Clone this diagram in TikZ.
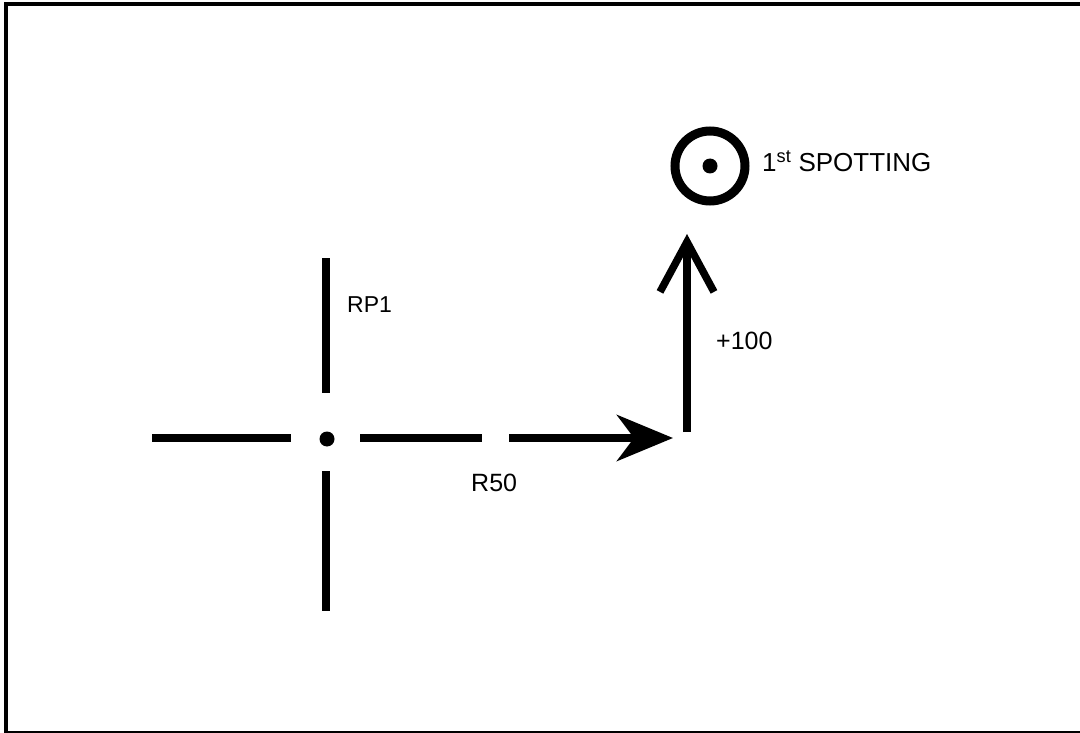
\documentclass[tikz,border=0pt]{standalone}
\usepackage{fontspec}
\setmainfont{Liberation Sans}
\usetikzlibrary{arrows.meta}

\tikzset{
  frameline/.style={line width=4pt, line cap=butt},
  hairline/.style={line width=7.5pt, line cap=butt},
  shaftR/.style={line width=8pt, -{Stealth[length=56pt, width=46pt, inset=17pt]}},
  shaftU/.style={line width=7.5pt, -{Straight Barb[length=50pt, width=54pt]}},
  label/.style={inner sep=0pt, font=\fontsize{25}{29}\selectfont},
  dotmark/.style={circle, fill=black, inner sep=0pt, minimum size=15pt},
  ring/.style={circle, draw=black, line width=9pt, inner sep=0pt, minimum size=70pt}
}

\begin{document}
\begin{tikzpicture}[x=1pt, y=-1pt]
  \useasboundingbox (0,0) rectangle (1080,733);
  \fill[white] (0,0) rectangle (1080,733);

  % frame on the top, left and bottom edges
  \coordinate (fTL) at (6,4);
  \coordinate (fTR) at (1080,4);
  \coordinate (fBL) at (6,733);
  \coordinate (bL) at (6,732);
  \coordinate (bR) at (1080,732);
  \draw[frameline, line join=miter] (fTR) -- (fTL) -- (fBL);
  \draw[line width=2pt] (bL) -- (bR);

  % reference point RP1: a dot with broken cross hairs
  \node[dotmark] (rp) at (327,439) {};
  \coordinate (vA) at (326,258);
  \coordinate (vB) at (326,393);
  \coordinate (vC) at (326,471);
  \coordinate (vD) at (326,611);
  \coordinate (hA) at (152,438);
  \coordinate (hB) at (291,438);
  \coordinate (hC) at (360,438);
  \coordinate (hD) at (482,438);
  \coordinate (hE) at (509,438);
  \coordinate (turn) at (673,438);
  \draw[hairline] (vA) -- (vB);
  \draw[hairline] (vC) -- (vD);
  \draw[hairline] (hA) -- (hB);
  \draw[hairline] (hC) -- (hD);

  % shift right, then add
  \draw[shaftR] (hE) -- (turn);
  \coordinate (upBase) at (687,432);
  \coordinate (upTip) at (687,234);
  \draw[shaftU] (upBase) -- (upTip);

  % first spotting
  \node[ring] (spot) at (710,166) {};
  \node[dotmark] (spotdot) at (710,166) {};

  % labels
  \node[label, anchor=west, font=\fontsize{23}{27}\selectfont] (lrp) at (347,305) {RP1};
  \node[label, anchor=west] (lup) at (716,341) {+100};
  \node[label, anchor=west] (lr) at (471,483) {R50};
  \node[label, anchor=west, font=\fontsize{26}{30}\selectfont] (lsp) at (762,161) {1\textsuperscript{st} SPOTTING};
\end{tikzpicture}
\end{document}
